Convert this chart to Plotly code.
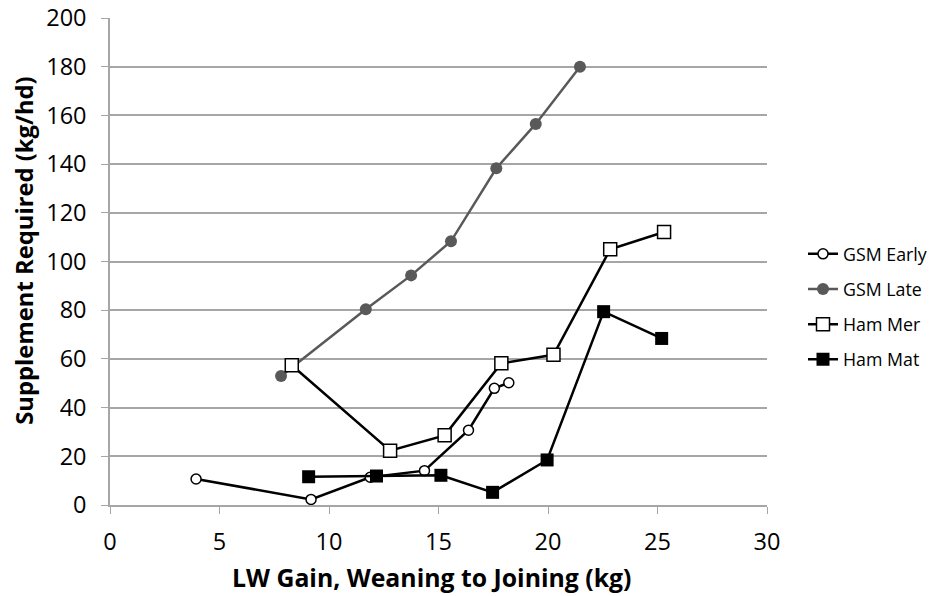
import plotly.graph_objects as go

# data
gsm_early_x = [3.93, 9.18, 11.88, 14.36, 16.37, 17.55, 18.21]
gsm_early_y = [10.7, 2.3, 11.4, 14.1, 30.7, 47.9, 50.2]

gsm_late_x = [7.81, 11.68, 13.75, 15.57, 17.64, 19.44, 21.46]
gsm_late_y = [53.0, 80.4, 94.3, 108.3, 138.3, 156.5, 180.0]

ham_mer_x = [8.30, 12.79, 15.28, 17.87, 20.25, 22.84, 25.30]
ham_mer_y = [57.4, 22.3, 28.6, 58.2, 61.7, 105.0, 112.1]

ham_mat_x = [9.07, 12.17, 15.11, 17.47, 19.96, 22.54, 25.19]
ham_mat_y = [11.6, 11.9, 12.2, 5.2, 18.5, 79.4, 68.4]

x_title = "LW Gain, Weaning to Joining (kg)"
y_title = "Supplement Required (kg/hd)"

fig = go.Figure()

fig.add_trace(go.Scatter(
    x=gsm_early_x, y=gsm_early_y, name="GSM Early", mode="lines+markers", legendgroup="a",
    line=dict(color="black", width=2.5),
    marker=dict(symbol="circle", size=10, color="white", line=dict(color="black", width=1.5))
))
fig.add_trace(go.Scatter(
    x=gsm_late_x, y=gsm_late_y, name="GSM Late", mode="lines+markers", legendgroup="b",
    line=dict(color="#595959", width=2.5),
    marker=dict(symbol="circle", size=12, color="#595959")
))
fig.add_trace(go.Scatter(
    x=ham_mer_x, y=ham_mer_y, name="Ham Mer", mode="lines+markers", legendgroup="c",
    line=dict(color="black", width=2.5),
    marker=dict(symbol="square", size=13, color="white", line=dict(color="black", width=1.5))
))
fig.add_trace(go.Scatter(
    x=ham_mat_x, y=ham_mat_y, name="Ham Mat", mode="lines+markers", legendgroup="d",
    line=dict(color="black", width=2.5),
    marker=dict(symbol="square", size=13, color="black")
))

# axis titles as annotations so they sit where the reference puts them
fig.add_annotation(text="<b>" + x_title + "</b>", xref="paper", yref="paper",
                   x=(431.5 - 110) / 657, y=(505 - 577) / 487,
                   xanchor="center", yanchor="middle", showarrow=False,
                   font=dict(size=24.8))
fig.add_annotation(text="<b>" + y_title + "</b>", xref="paper", yref="paper",
                   x=(24 - 110) / 657, y=(505 - 250.8) / 487, textangle=-90,
                   xanchor="center", yanchor="middle", showarrow=False,
                   font=dict(size=23.8))

fig.update_layout(
    width=932, height=596,
    margin=dict(l=110, r=165, t=18, b=91),
    plot_bgcolor="white", paper_bgcolor="white",
    font=dict(family="Open Sans, Liberation Sans, sans-serif", size=22, color="black"),
    legend=dict(xref="container", yref="paper", x=803 / 932, y=0.407,
                xanchor="left", yanchor="middle",
                font=dict(size=17.8), tracegroupgap=9, itemwidth=30),
    xaxis=dict(
        range=[0, 30], dtick=5, showgrid=False, automargin=False,
        showline=True, linecolor="#a6a6a6", linewidth=1.5,
        ticks="outside", ticklen=7, tickcolor="#a6a6a6",
        tickfont=dict(size=23.5), ticklabelstandoff=8,
        zeroline=False
    ),
    yaxis=dict(
        range=[0, 200], dtick=20, showgrid=True, gridcolor="#a6a6a6", gridwidth=1.5,
        showline=True, linecolor="#a6a6a6", linewidth=1.5, automargin=False,
        ticks="outside", ticklen=7, tickcolor="#a6a6a6",
        tickfont=dict(size=23.5), ticklabelstandoff=10,
        zeroline=False
    ),
)

# drop the default 8px page margin so the figure fills the window
fig.write_html("out.html", config={"displayModeBar": False},
               post_script="document.body.style.margin='0';")
